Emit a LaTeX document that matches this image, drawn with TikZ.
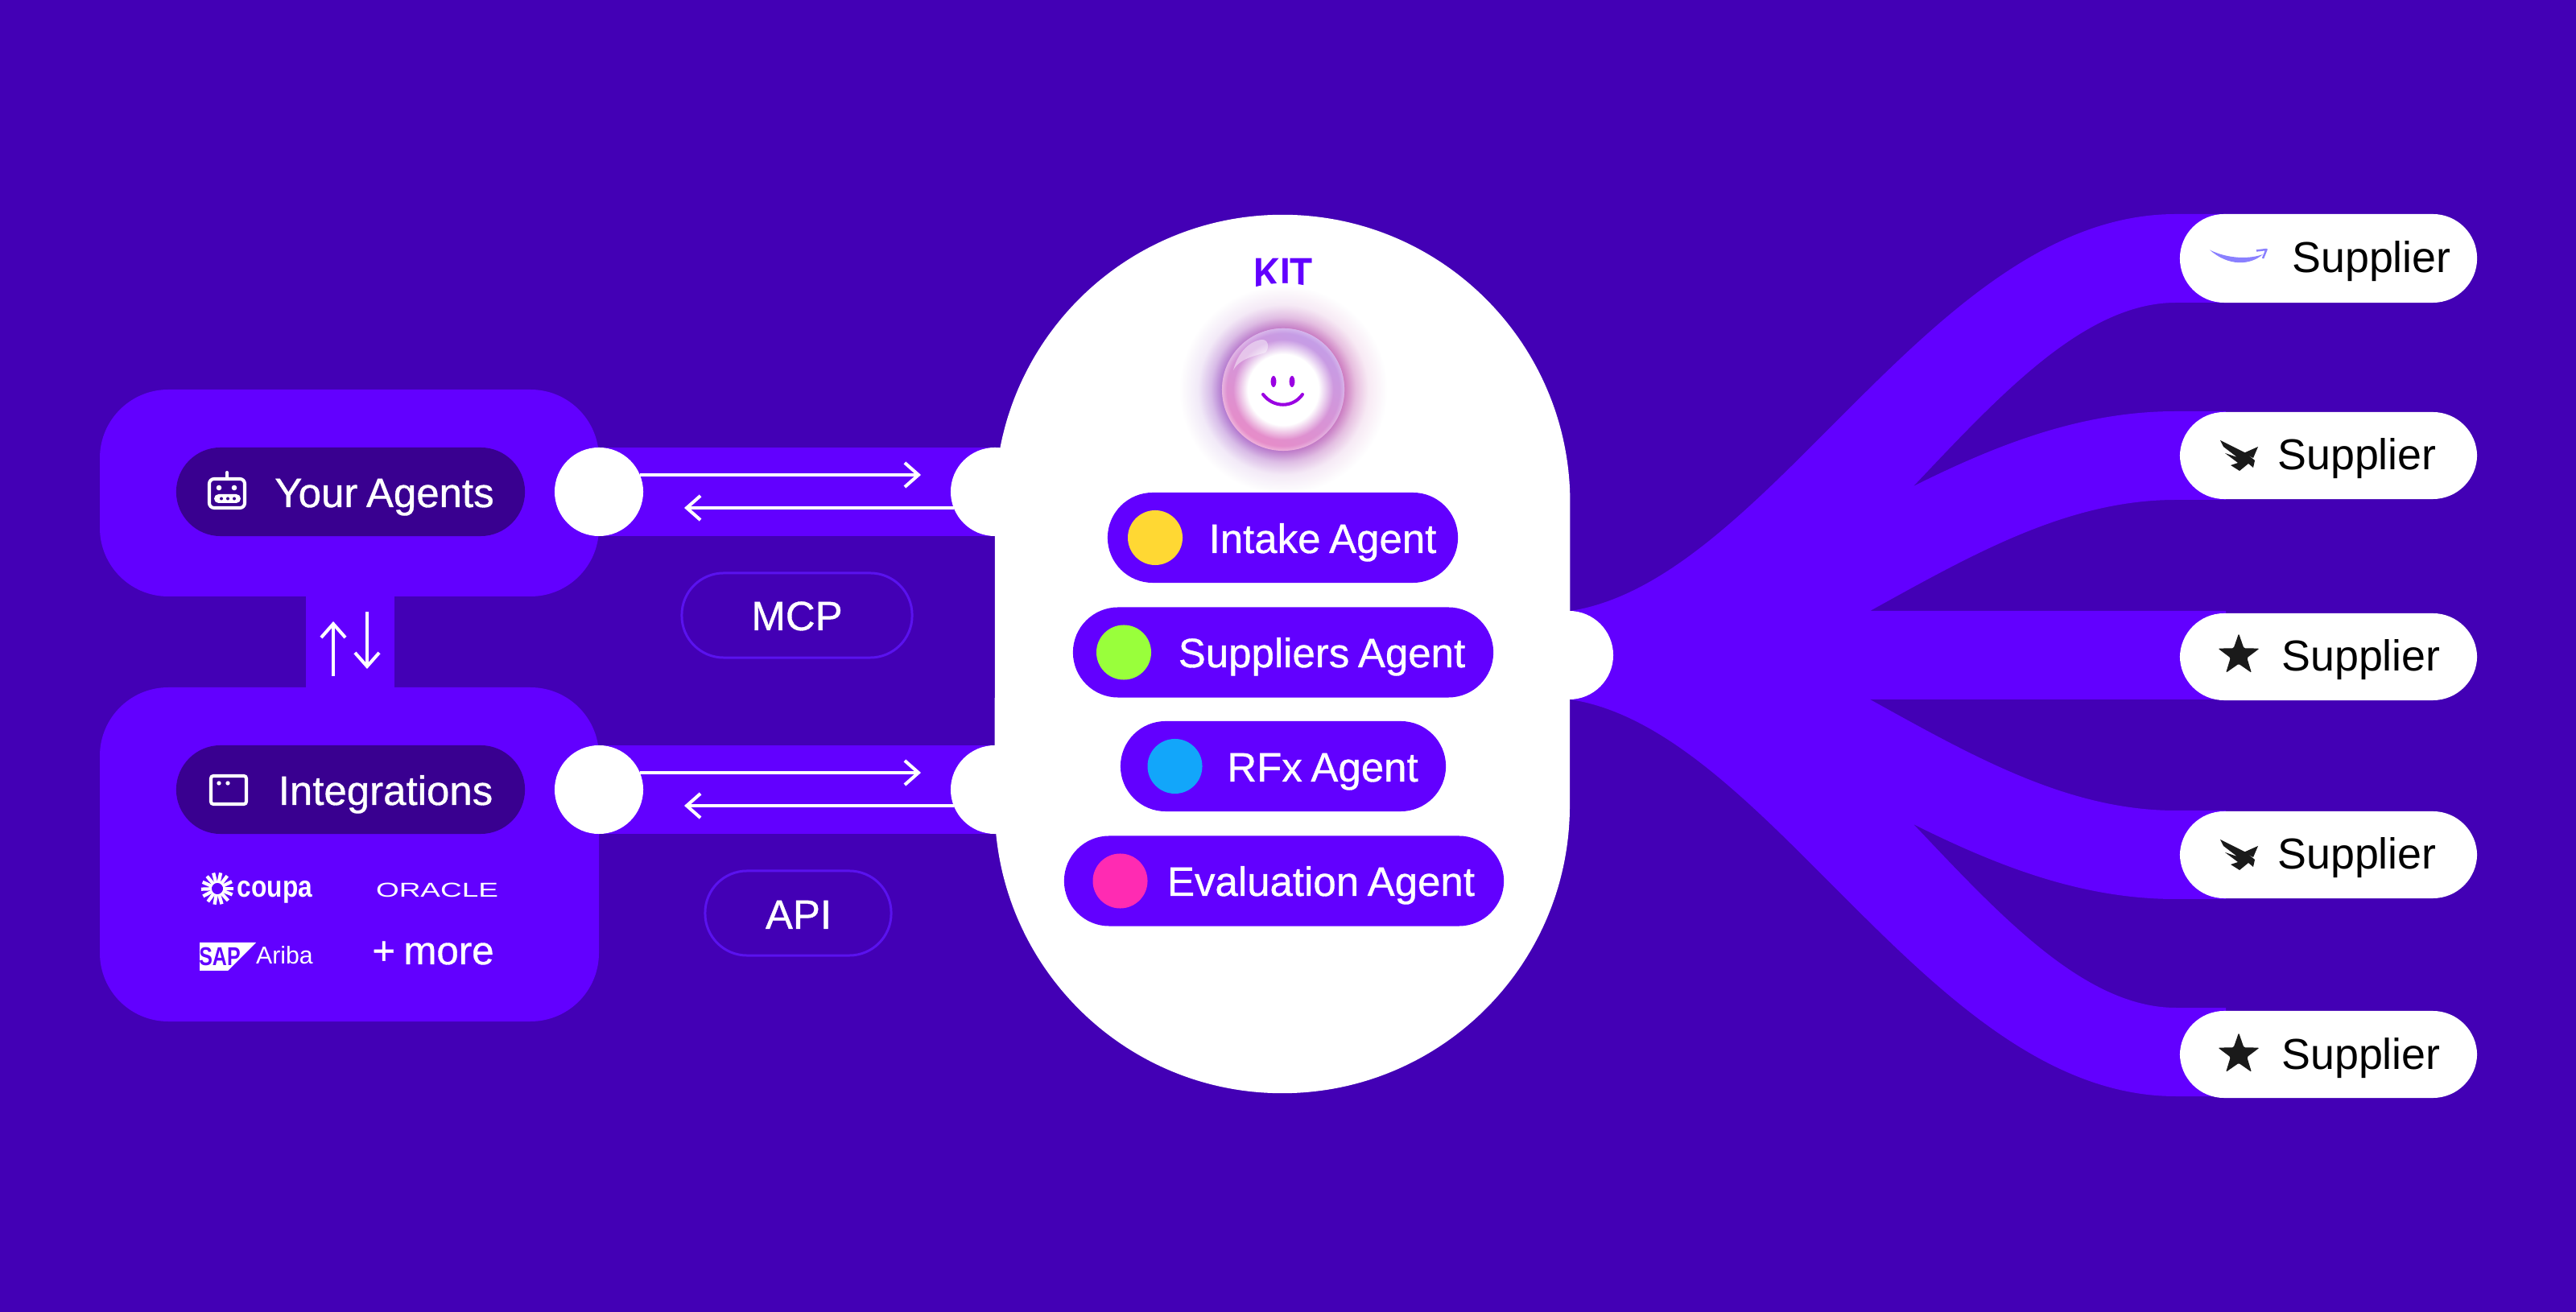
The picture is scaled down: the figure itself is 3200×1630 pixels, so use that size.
\documentclass[tikz,border=0pt]{standalone}
\usepackage{fontspec}
\setmainfont{Liberation Sans}
\newfontfamily\labelfont{Liberation Sans}[FakeBold=0.7,WordSpace=0.75]
\usetikzlibrary{arrows.meta,shapes.geometric,fadings}

\definecolor{night}{HTML}{4300B5}
\definecolor{violet}{HTML}{6200FF}
\definecolor{deep}{HTML}{390090}
\definecolor{rim}{HTML}{5A12EE}
\definecolor{ink}{HTML}{1A1A1A}
\definecolor{smile}{HTML}{9A00E2}
\definecolor{ringpink}{HTML}{E88CC8}
\definecolor{ringlilac}{HTML}{C49EE8}
\definecolor{haloviolet}{HTML}{A878D6}
\definecolor{halopink}{HTML}{D880BC}
\definecolor{arrowsmile}{HTML}{8A80FF}
\colorlet{haloVa}{haloviolet!50!white}
\colorlet{haloVb}{haloviolet!16!white}
\colorlet{haloPa}{halopink!50!white}
\colorlet{haloPb}{halopink!16!white}
\colorlet{ringPa}{ringpink!65!white}
\colorlet{ringLa}{ringlilac!75!white}

% soft glow round the sphere, and the coloured ring inside it;
% a TikZ path edge falls on the 25bp stop of a radial shading
\pgfdeclareradialshading{haloV}{\pgfpoint{0bp}{0bp}}{color(0bp)=(haloviolet); color(14.4bp)=(haloviolet); color(17bp)=(haloVa); color(20bp)=(haloVb); color(24.5bp)=(white); color(50bp)=(white)}
\pgfdeclareradialshading{haloP}{\pgfpoint{0bp}{0bp}}{color(0bp)=(halopink); color(14.4bp)=(halopink); color(17bp)=(haloPa); color(20bp)=(haloPb); color(24.5bp)=(white); color(50bp)=(white)}
\pgfdeclareradialshading{ringP}{\pgfpoint{0bp}{0bp}}{color(0bp)=(white); color(14.5bp)=(white); color(20.5bp)=(ringpink); color(23bp)=(ringpink); color(25bp)=(ringPa); color(50bp)=(ringPa)}
\pgfdeclareradialshading{ringL}{\pgfpoint{0bp}{0bp}}{color(0bp)=(white); color(14.5bp)=(white); color(20.5bp)=(ringlilac); color(23bp)=(ringlilac); color(25bp)=(ringLa); color(50bp)=(ringLa)}
\tikzfading[name=fadefromtop, top color=transparent!0, middle color=transparent!45, bottom color=transparent!100]

\tikzset{
  fs/.style={font=\fontsize{#1}{#1}\selectfont},
  lab/.style={font=\labelfont\fontsize{#1}{#1}\selectfont},
  txt50/.style={lab=14.5pt, text=white, anchor=base, inner sep=0pt},
  supplier/.style={fs=15.3pt, text=black, anchor=base, inner sep=0pt},
  pillbox/.style={rectangle, rounded corners=0.55cm, inner sep=0pt, minimum height=1.1cm},
  agentpill/.style={rectangle, rounded corners=0.56cm, inner sep=0pt, minimum height=1.12cm, fill=violet},
  sidepill/.style={pillbox, fill=deep, minimum width=4.33cm},
  protocol/.style={rectangle, rounded corners=0.52cm, inner sep=0pt, minimum height=1.05cm, draw=rim, line width=0.85pt},
  supplierpill/.style={pillbox, fill=white, minimum width=3.69cm},
  port/.style={circle, fill=white, inner sep=0pt, minimum size=1.1cm},
  dot/.style={circle, inner sep=0pt, minimum size=0.68cm},
  link/.style={white, line width=1.15pt, -{Straight Barb[length=0.17cm,width=0.3cm,line width=1.15pt]}},
  starmark/.style={star, star points=5, star point ratio=2.5, fill=ink, inner sep=0pt, minimum size=0.54cm, rounded corners=0.4pt},
  eagle/.pic={
    \fill[ink] (-23,-19) -- (9,-3) -- (20,6) -- (18,15) -- (12,10) -- (1,19) -- (-10,12) -- (-1,9) -- (-17,-3) -- (-2,2) -- (-19,-11) -- cycle;
    \fill[ink] (24,-11) -- (18,3) -- (6,-3) -- cycle;
  }
}

\begin{document}
\begin{tikzpicture}[x=0.01cm,y=-0.01cm]
\useasboundingbox (0,0) rectangle (3200,1629.7);
\fill[night] (0,0) rectangle (3200,1630);

% left-hand panels and the neck joining them
\fill[violet] (380,700) rectangle (490,900);
\fill[violet, rounded corners=0.85cm] (124,484) rectangle (744,741);
\fill[violet, rounded corners=0.85cm] (124,854) rectangle (744,1269);

% protocol bands
\coordinate (agentsBandA) at (744,556);
\coordinate (agentsBandB) at (1240,666);
\coordinate (integBandA) at (744,926);
\coordinate (integBandB) at (1240,1036);
\fill[violet] (agentsBandA) rectangle (agentsBandB);
\fill[violet] (integBandA) rectangle (integBandB);

% supplier fan-out
\fill[violet] (1951,759)
  .. controls (2200,720) and (2400,266) .. (2703,266) -- (2765,266) -- (2765,376) -- (2703,376)
  .. controls (2590,376) and (2485,490) .. (2377,604)
  .. controls (2487,549) and (2590,511) .. (2703,511) -- (2765,511) -- (2765,621) -- (2703,621)
  .. controls (2570,621) and (2453,687) .. (2323,759) -- (2765,759) -- (2765,869) -- (2323,869)
  .. controls (2453,941) and (2570,1007) .. (2703,1007) -- (2765,1007) -- (2765,1117) -- (2703,1117)
  .. controls (2590,1117) and (2487,1079) .. (2377,1024)
  .. controls (2485,1138) and (2590,1252) .. (2703,1252) -- (2765,1252) -- (2765,1362) -- (2703,1362)
  .. controls (2400,1362) and (2200,908) .. (1951,869) -- cycle;

% central capsule
\fill[white] (1236,624) arc[start angle=180, end angle=0, radius=3.57cm] -- (1950,1001)
  arc[start angle=0, end angle=-180, radius=3.57cm] -- cycle;

% connection ports
\node[port] (agentsOut) at (744,611) {};
\node[port] (agentsIn) at (1236,611) {};
\node[port] (integOut) at (744,981) {};
\node[port] (integIn) at (1236,981) {};
\node[port] (kitOut) at (1949,814) {};

% arrows along the bands
\coordinate (a1) at (795,590);
\coordinate (a2) at (1144,590);
\coordinate (a3) at (1185,631);
\coordinate (a4) at (850,631);
\coordinate (b1) at (795,960);
\coordinate (b2) at (1144,960);
\coordinate (b3) at (1185,1001);
\coordinate (b4) at (850,1001);
\draw[link] (a1) -- (a2);
\draw[link] (a3) -- (a4);
\draw[link] (b1) -- (b2);
\draw[link] (b3) -- (b4);
\coordinate (u1) at (414,840);
\coordinate (u2) at (414,772);
\coordinate (d1) at (456,760);
\coordinate (d2) at (456,831);
\draw[link] (u1) -- (u2);
\draw[link] (d1) -- (d2);

% left-hand labels
\node[sidepill] (agentsPill) at (435.5,611) {};
\node[sidepill] (integPill) at (435.5,981) {};
\node[txt50] (agentsText) at (477.5,630) {Your Agents};
\node[txt50] (integText) at (479,1000) {Integrations};

% robot icon
\draw[white, line width=1.15pt, rounded corners=0.06cm] (260,595) rectangle (304,631);
\draw[white, line width=1.15pt, line cap=round] (282,587) -- (282,595);
\fill[white] (272,606) circle (0.033cm) (291,606) circle (0.033cm);
\fill[white, rounded corners=0.055cm] (266,614) rectangle (299,625);
\fill[deep] (275,619.5) circle (0.02cm) (283,619.5) circle (0.02cm) (291,619.5) circle (0.02cm);

% window icon
\draw[white, line width=1.15pt, rounded corners=0.03cm] (262,964) rectangle (306,999);
\fill[white] (272,973) circle (0.027cm) (283,973) circle (0.027cm);

% coupa mark
\foreach \a in {0,26,...,340} {
  \draw[white, line width=1.2pt] (270,1104) ++(\a:0.07cm) -- ++(\a:0.13cm);
}
\node[fs=10.6pt, text=white, anchor=base, inner sep=0pt] (coupaText) at (341.5,1115) {\scalebox{.85}[1]{\bfseries coupa}};
\node[fs=7.1pt, text=white, anchor=base, inner sep=0pt] (oracleText) at (543,1115) {\scalebox{1.48}[1]{ORACLE}};

% SAP Ariba mark
\fill[white] (248,1171) -- (318,1171) -- (283,1206) -- (248,1206) -- cycle;
\node[fs=9.1pt, text=violet, anchor=base, inner sep=0pt] (sapText) at (273,1200) {\scalebox{.78}[1]{\bfseries SAP}};
\node[fs=8.6pt, text=white, anchor=base, inner sep=0pt] (aribaText) at (353.5,1198) {Ariba};
\node[lab=14pt, text=white, anchor=base, inner sep=0pt] (moreText) at (538,1198) {+ more};

% protocol tags
\node[protocol, minimum width=2.86cm] (mcpPill) at (990,764.5) {};
\node[protocol, minimum width=2.31cm] (apiPill) at (991.5,1134.5) {};
\node[txt50] (mcpText) at (990,783) {MCP};
\node[txt50] (apiText) at (992,1154) {API};

% capsule title
\node[fs=15pt, text=violet, anchor=base, inner sep=0pt] (kitText) at (1594,358) {\scalebox{.87}[1]{\bfseries KIT}};

% glowing sphere
\shade[shading=haloV] (1594,484) circle (1.32cm);
\shade[shading=haloP, path fading=fadefromtop, fading angle=-75] (1594,484) circle (1.32cm);
\shade[shading=ringP] (1594,484) circle (0.76cm);
\shade[shading=ringL, path fading=fadefromtop, fading angle=-30] (1594,484) circle (0.76cm);
\fill[white, opacity=0.45] (1532,460) .. controls (1540,430) and (1560,422) .. (1568,422)
  .. controls (1576,422) and (1577,432) .. (1572,438) .. controls (1560,442) and (1540,445) .. (1532,460) -- cycle;
\fill[smile] (1582,474) ellipse[x radius=0.034cm, y radius=0.07cm];
\fill[smile] (1605,474) ellipse[x radius=0.034cm, y radius=0.07cm];
\draw[smile, line width=1.15pt, line cap=round] (1569,490) .. controls (1582,507) and (1606,507) .. (1618,490);

% agent list
\node[agentpill, minimum width=4.35cm] (intakePill) at (1593.5,668) {};
\node[agentpill, minimum width=5.22cm] (suppliersPill) at (1594,810.5) {};
\node[agentpill, minimum width=4.04cm] (rfxPill) at (1594,952) {};
\node[agentpill, minimum width=5.46cm] (evalPill) at (1595,1094.5) {};
\node[dot, fill={rgb,255:red,255;green,216;blue,51}] (intakeDot) at (1435,668) {};
\node[dot, fill={rgb,255:red,153;green,255;blue,59}] (suppliersDot) at (1396,810.5) {};
\node[dot, fill={rgb,255:red,18;green,166;blue,250}] (rfxDot) at (1459.5,952) {};
\node[dot, fill={rgb,255:red,255;green,43;blue,178}] (evalDot) at (1391.5,1094.5) {};
\node[txt50] (intakeText) at (1643,687) {Intake Agent};
\node[txt50] (suppliersText) at (1642,829) {Suppliers Agent};
\node[txt50] (rfxText) at (1643,971) {RFx Agent};
\node[txt50] (evalText) at (1641,1113) {Evaluation Agent};

% suppliers
\node[supplierpill] (sup1) at (2892.5,321) {};
\node[supplierpill, minimum height=1.08cm] (sup2) at (2892.5,566) {};
\node[supplierpill, minimum height=1.08cm] (sup3) at (2892.5,816) {};
\node[supplierpill, minimum height=1.08cm] (sup4) at (2892.5,1062) {};
\node[supplierpill, minimum height=1.08cm] (sup5) at (2892.5,1310) {};
\node[supplier] (sup1Text) at (2946,339) {Supplier};
\node[supplier] (sup2Text) at (2928,584) {Supplier};
\node[supplier] (sup3Text) at (2933,834) {Supplier};
\node[supplier] (sup4Text) at (2928,1080) {Supplier};
\node[supplier] (sup5Text) at (2933,1328) {Supplier};

% supplier marks
\fill[arrowsmile] (2745,310.5) .. controls (2768,331) and (2795,330) .. (2811,316)
  .. controls (2795,322) and (2768,322) .. (2745,310.5) -- cycle;
\draw[arrowsmile, line width=0.7pt, line join=round] (2803,311.5) -- (2815.5,310) -- (2811,321);
\pic at (2781,566) {eagle};
\pic at (2781,1062) {eagle};
\node[starmark] (star3) at (2781,814) {};
\node[starmark] (star5) at (2781,1310) {};
\end{tikzpicture}
\end{document}
